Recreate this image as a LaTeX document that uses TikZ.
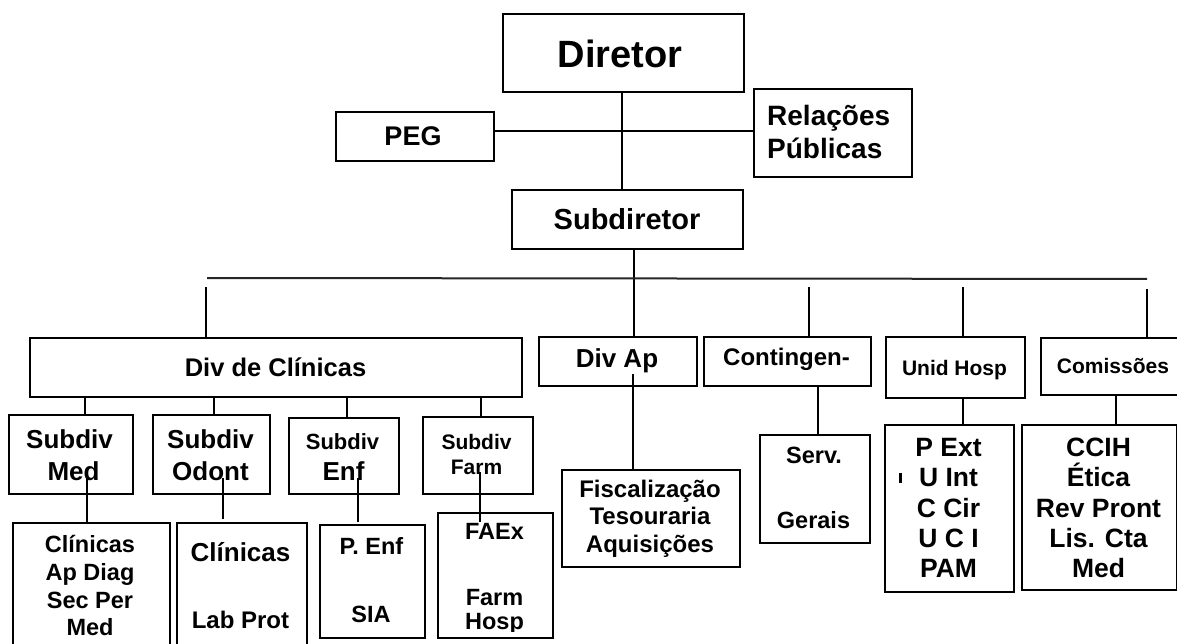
\documentclass[tikz,border=0pt]{standalone}
\usepackage{fontspec}
\setmainfont{Liberation Sans}
\begin{document}
\begin{tikzpicture}[x=1pt,y=-1pt,
  box/.style={draw, line width=1.6pt, inner sep=0pt},
  con/.style={line width=1.7pt},
  lbl/.style={inner sep=0pt, anchor=base, font=\fontsize{#1}{#1}\selectfont\bfseries}]
\useasboundingbox (0,0) rectangle (1177,644);
\clip (0,0) rectangle (1177,644);
\fill[white] (0,0) rectangle (1177,644);
% boxes
\newcommand{\bx}[5]{\node[box, minimum width={#4-#2}, minimum height={#5-#3}, anchor=north west] (#1) at (#2,#3) {};}
\bx{dir}{502}{13}{743}{91}
\bx{peg}{335}{111}{493}{160}
\bx{rel}{753}{88}{911}{176}
\bx{sub}{511}{189}{742}{248}
\bx{divc}{29}{337}{521}{396}
\bx{divap}{538}{336}{696}{385}
\bx{cont}{703}{336}{870}{385}
\bx{unid}{885}{336}{1024}{397}
\bx{com}{1040}{337}{1185}{394}
\bx{smed}{8}{414}{132}{493}
\bx{sodo}{152}{414}{269}{493}
\bx{senf}{288}{417}{398}{493}
\bx{sfarm}{422}{416}{532}{493}
\bx{cli}{12}{522}{169}{655}
\bx{clilab}{176}{522}{306}{655}
\bx{penf}{319}{524}{424}{637}
\bx{faex}{437}{512}{552}{637}
\bx{fisc}{561}{469}{739}{566}
\bx{serv}{759}{434}{869}{542}
\bx{pext}{884}{424}{1013}{591}
\bx{ccih}{1021}{424}{1176}{589}
% junction coordinates
\coordinate (busL) at (207,278);
\coordinate (busR) at (1147,279);
\coordinate (dA) at (206,287);
\coordinate (dC) at (809,287);
\coordinate (dU) at (963,287);
\coordinate (dK) at (1147,289);
% top connectors
\draw[con] (dir.south -| 622,0) -- (sub.north -| 622,0);
\draw[line width=2.6pt] (peg.east |- 0,131) -- (rel.west |- 0,131);
\draw[con] (sub.south -| 634,0) -- (divap.north -| 634,0);
\draw[line width=2pt, black!85] (busL) -- (busR);
\draw[con] (dA) -- (divc.north -| dA);
\draw[con] (dC) -- (cont.north -| dC);
\draw[con] (dU) -- (unid.north -| dU);
\draw[con] (dK) -- (com.north -| dK);
% division connectors
\draw[con] (divc.south -| 85,0) -- (smed.north -| 85,0);
\draw[con] (divc.south -| 214,0) -- (sodo.north -| 214,0);
\draw[con] (divc.south -| 347,0) -- (senf.north -| 347,0);
\draw[con] (divc.south -| 481,0) -- (sfarm.north -| 481,0);
\coordinate (mIn) at (87,478);
\coordinate (oIn) at (223,478);
\coordinate (oEnd) at (223,519);
\coordinate (eIn) at (358,478);
\coordinate (eEnd) at (358,522);
\coordinate (fIn) at (480,472);
\coordinate (fEnd) at (480,522);
\coordinate (aIn) at (633,374);
\draw[con] (mIn) -- (cli.north -| mIn);
\draw[con] (oIn) -- (oEnd);
\draw[con] (eIn) -- (eEnd);
\draw[con] (fIn) -- (fEnd);
\draw[con] (aIn) -- (fisc.north -| aIn);
\draw[con] (cont.south -| 818,0) -- (serv.north -| 818,0);
\draw[con] (unid.south -| 963,0) -- (pext.north -| 963,0);
\draw[con] (com.south -| 1116,0) -- (ccih.north -| 1116,0);
\fill (899,473) rectangle (901.5,483);
% labels
\node[lbl=38] (tdir) at (620,68) {Diretor};
\node[lbl=27] (tpeg) at (413,146) {PEG};
\node[lbl=28, anchor=base west] (trel1) at (767,126) {Relações};
\node[lbl=28, anchor=base west] (trel2) at (767,159) {Públicas};
\node[lbl=29] (tsub) at (627,230) {Subdiretor};
\node[lbl=25.5] (tdivc) at (275.5,376) {Div de Clínicas};
\node[lbl=26] (tdivap) at (617,367) {Div Ap};
\node[lbl=24] (tcont) at (786.5,365) {Contingen-};
\node[lbl=21] (tunid) at (954.5,375) {Unid Hosp};
\node[lbl=21] (tcom) at (1113,373) {Comissões};
\node[lbl=26] (tsm1) at (69.5,448) {Subdiv};
\node[lbl=26] (tsm2) at (73.5,480) {Med};
\node[lbl=26] (tso1) at (210.5,448) {Subdiv};
\node[lbl=26] (tso2) at (210.5,480) {Odont};
\node[lbl=22] (tse1) at (342.5,449) {Subdiv};
\node[lbl=26] (tse2) at (343.5,480) {Enf};
\node[lbl=21] (tsf1) at (476.5,449) {Subdiv};
\node[lbl=21] (tsf2) at (476.5,474) {Farm};
\node[lbl=23.5] (tc1) at (90,552) {Clínicas};
\node[lbl=23.5] (tc2) at (90,580) {Ap Diag};
\node[lbl=23.5] (tc3) at (90,608) {Sec Per};
\node[lbl=23.5] (tc4) at (90,635) {Med};
\node[lbl=26] (tl1) at (240.5,561) {Clínicas};
\node[lbl=24] (tl2) at (240.5,628) {Lab Prot};
\node[lbl=23.5] (tp1) at (371.5,554) {P. Enf};
\node[lbl=23.5] (tp2) at (371,622) {SIA};
\begin{scope}
\clip (437,512) rectangle (552,631);
\node[lbl=23.5] (tf1) at (494.5,539) {FAEx};
\node[lbl=23.5] (tf2) at (494.5,605) {Farm};
\node[lbl=23.5] (tf3) at (494.5,629) {Hosp};
\end{scope}
\node[lbl=24] (tfi1) at (650,497) {Fiscalização};
\node[lbl=24] (tfi2) at (650,524) {Tesouraria};
\node[lbl=24] (tfi3) at (650,552) {Aquisições};
\node[lbl=23.5] (tsv1) at (814,463) {Serv.};
\node[lbl=23.5] (tsv2) at (813.5,528) {Gerais};
\node[lbl=26.5] (tu1) at (948.5,456) {P Ext};
\node[lbl=26.5] (tu2) at (948.5,486) {U Int};
\node[lbl=26.5] (tu3) at (948.5,517) {C Cir};
\node[lbl=26.5] (tu4) at (948.5,547) {U C I};
\node[lbl=26.5] (tu5) at (948.5,577) {PAM};
\node[lbl=26.5] (tk1) at (1098.5,456) {CCIH};
\node[lbl=26.5] (tk2) at (1098.5,486) {Ética};
\node[lbl=26.5] (tk3) at (1098.5,517) {Rev Pront};
\node[lbl=26.5] (tk4) at (1098.5,547) {Lis. Cta};
\node[lbl=26.5] (tk5) at (1098.5,577) {Med};
\end{tikzpicture}
\end{document}
